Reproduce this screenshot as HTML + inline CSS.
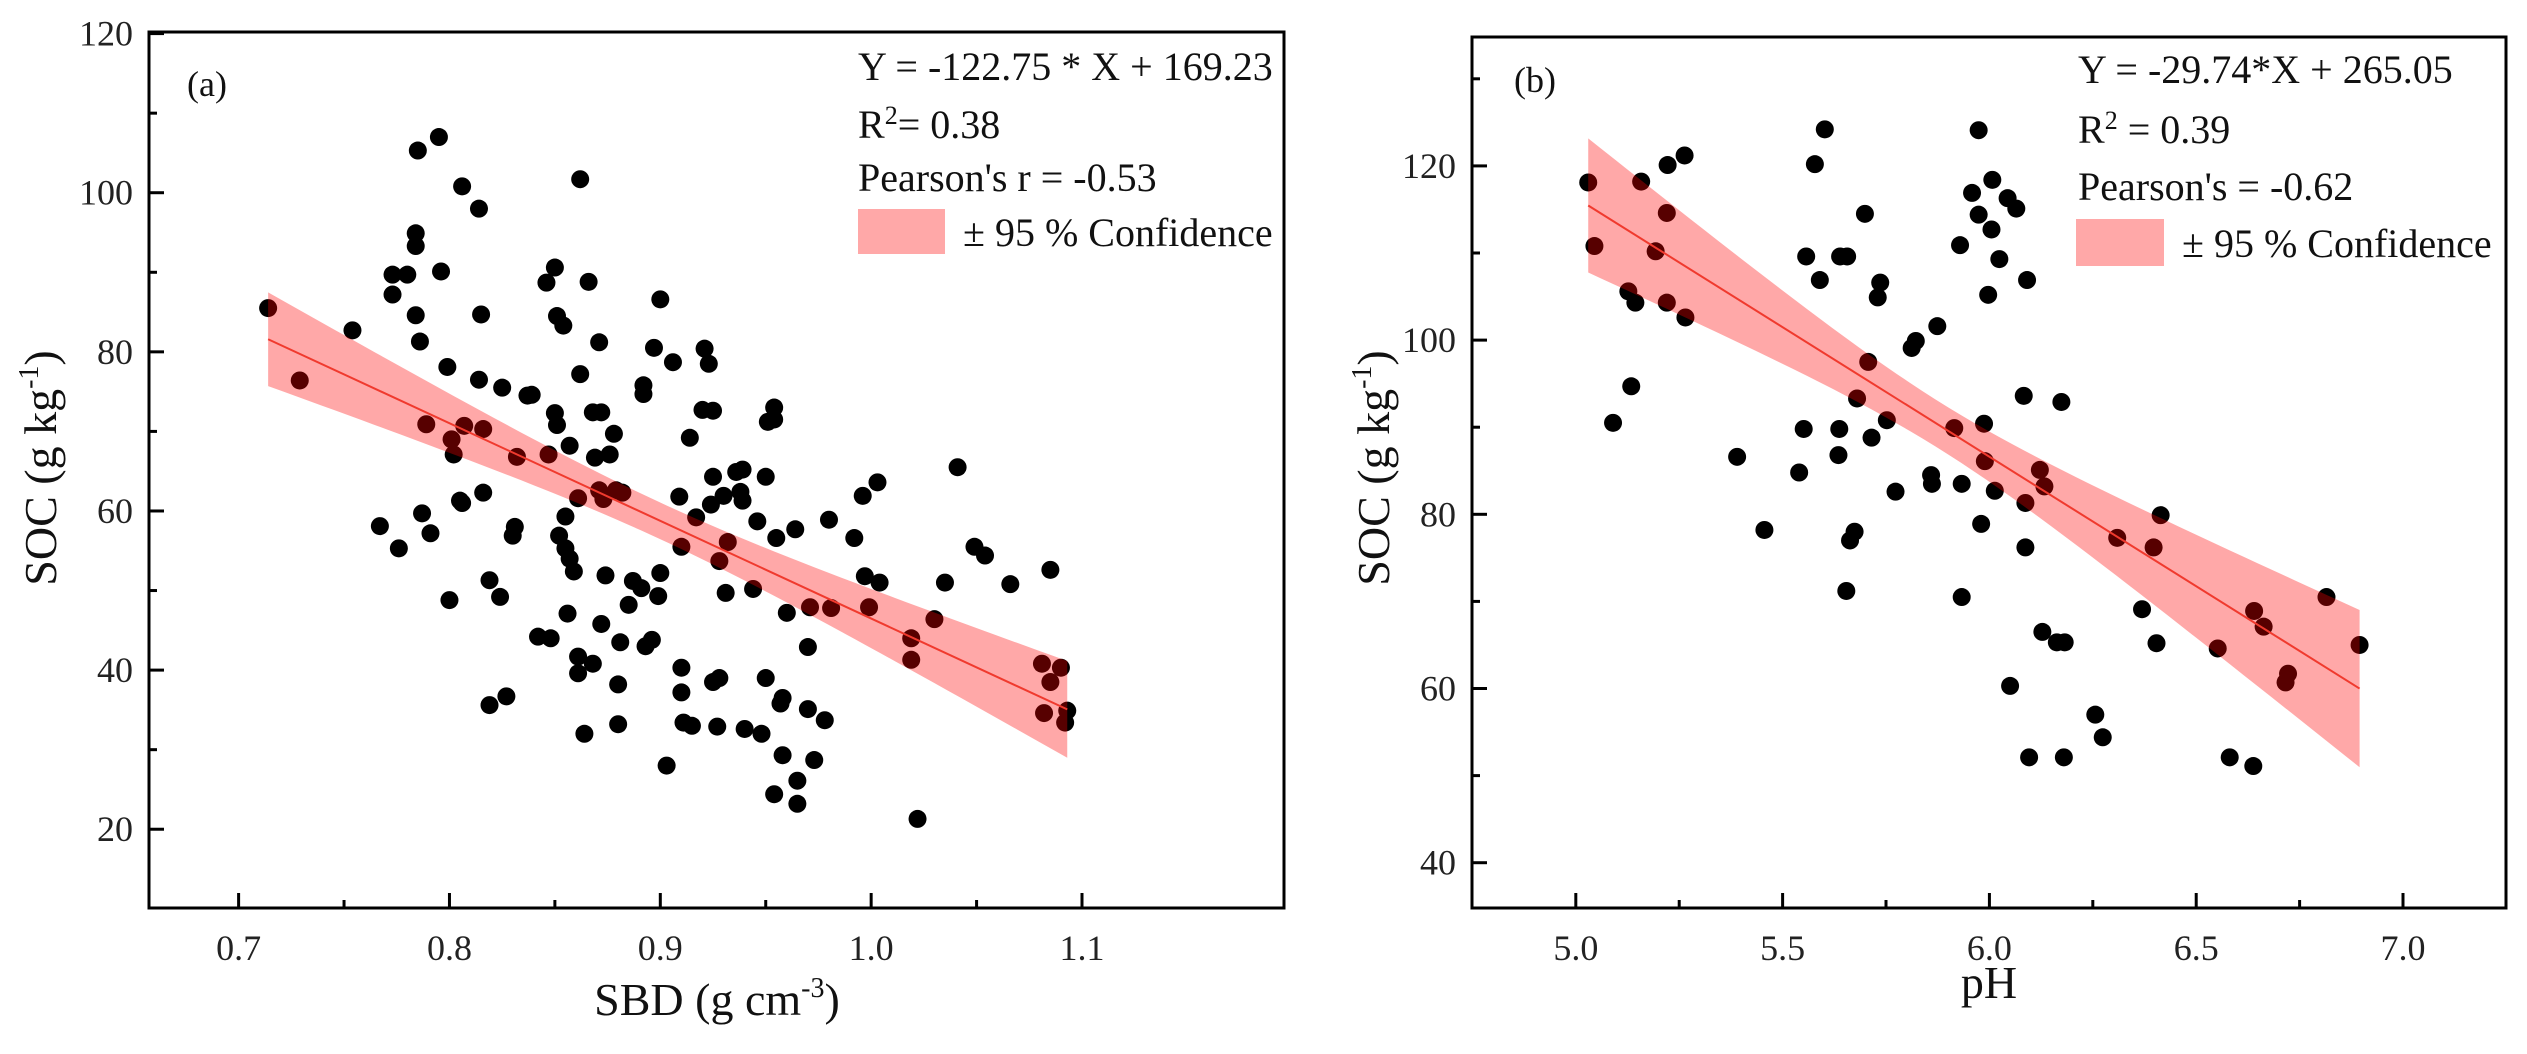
<!DOCTYPE html>
<html><head><meta charset="utf-8"><style>
html,body{margin:0;padding:0;background:#fff;}
svg, svg text{font-family:"Liberation Serif","DejaVu Serif",serif;}
</style></head><body>
<svg id="chart" width="2527" height="1049" viewBox="0 0 2527 1049" xmlns="http://www.w3.org/2000/svg"></svg>
<script>
// Panel (a): SBD vs SOC
const sbdX = [0.714,0.729,0.754,0.767,0.773,0.773,0.776,0.780,0.785,0.784,0.784,0.784,0.786,0.787,0.789,0.791,0.795,0.796,0.799,0.800,0.801,0.802,0.805,0.806,0.806,0.807,0.814,0.814,0.815,0.816,0.816,0.819,0.819,0.824,0.825,0.827,0.830,0.831,0.832,0.837,0.839,0.842,0.846,0.847,0.848,0.850,0.850,0.851,0.851,0.852,0.854,0.855,0.855,0.856,0.857,0.857,0.859,0.861,0.861,0.861,0.862,0.862,0.864,0.866,0.868,0.869,0.868,0.871,0.871,0.872,0.872,0.873,0.874,0.876,0.878,0.879,0.880,0.880,0.881,0.882,0.885,0.887,0.891,0.892,0.892,0.893,0.896,0.897,0.899,0.900,0.900,0.903,0.906,0.909,0.910,0.910,0.910,0.911,0.914,0.915,0.917,0.920,0.921,0.923,0.924,0.925,0.925,0.925,0.928,0.927,0.928,0.930,0.931,0.932,0.936,0.939,0.938,0.939,0.940,0.944,0.946,0.948,0.950,0.950,0.951,0.954,0.954,0.954,0.955,0.957,0.958,0.958,0.960,0.964,0.965,0.965,0.970,0.970,0.971,0.973,0.978,0.980,0.981,0.992,0.996,0.997,0.999,1.003,1.004,1.019,1.019,1.022,1.030,1.035,1.041,1.049,1.054,1.066,1.081,1.082,1.085,1.085,1.090,1.092,1.093];
const sbdY = [85.5,76.4,82.7,58.1,87.2,89.7,55.3,89.7,105.3,94.9,93.3,84.6,81.3,59.7,70.9,57.2,107.0,90.1,78.1,48.8,69.0,67.1,61.3,61.0,100.8,70.7,98.0,76.5,84.7,70.3,62.3,51.3,35.6,49.2,75.5,36.7,56.9,58.0,66.8,74.5,74.6,44.2,88.7,67.1,44.0,90.6,72.3,70.8,84.5,56.9,83.3,55.3,59.3,47.1,68.2,54.0,52.4,61.6,39.6,41.7,101.7,77.2,32.0,88.8,40.8,66.7,72.4,81.2,62.6,72.4,45.8,61.5,51.9,67.1,69.7,62.6,38.2,33.2,43.5,62.3,48.2,51.2,50.3,75.8,74.7,43.0,43.8,80.5,49.3,52.2,86.6,28.0,78.7,61.8,37.2,40.3,55.5,33.4,69.2,33.0,59.2,72.7,80.4,78.5,60.8,72.6,64.3,38.5,39.0,32.9,53.7,61.9,49.7,56.1,64.9,65.2,62.4,61.3,32.6,50.2,58.7,32.0,64.3,39.0,71.2,73.0,71.5,24.4,56.6,35.8,36.5,29.3,47.2,57.7,26.1,23.2,35.1,42.9,47.9,28.7,33.7,58.9,47.8,56.6,61.9,51.8,47.9,63.6,51.0,44.0,41.3,21.3,46.4,51.0,65.5,55.5,54.4,50.8,40.8,34.6,52.6,38.5,40.3,33.4,34.9];
const aXTicks = [0.7,0.8,0.9,1.0,1.1];
const aXTickLabels = ["0.7","0.8","0.9","1.0","1.1"];
const aYTicks = [20,40,60,80,100,120];
const aSlope = -122.75, aIntercept = 169.23;

// Panel (b): pH vs SOC
const phX = [5.03,5.045,5.09,5.127,5.134,5.144,5.158,5.193,5.22,5.222,5.22,5.263,5.265,5.39,5.456,5.54,5.551,5.557,5.578,5.59,5.602,5.635,5.637,5.639,5.656,5.654,5.663,5.674,5.68,5.699,5.707,5.715,5.73,5.736,5.752,5.773,5.812,5.822,5.859,5.861,5.874,5.915,5.929,5.933,5.933,5.958,5.974,5.974,5.98,5.987,5.989,5.997,6.005,6.007,6.013,6.024,6.044,6.05,6.065,6.083,6.087,6.087,6.091,6.096,6.122,6.128,6.133,6.163,6.174,6.182,6.18,6.256,6.274,6.309,6.369,6.397,6.404,6.414,6.552,6.581,6.64,6.638,6.663,6.716,6.722,6.815,6.895];
const phY = [118.1,110.8,90.5,105.6,94.7,104.3,118.2,110.2,114.6,120.1,104.3,121.2,102.6,86.6,78.2,84.8,89.8,109.6,120.2,106.9,124.2,86.8,89.8,109.6,109.6,71.2,77.0,78.0,93.3,114.5,97.5,88.8,104.9,106.6,90.8,82.6,99.1,99.9,84.5,83.5,101.6,89.9,110.9,83.5,70.5,116.9,114.4,124.1,78.9,90.4,86.1,105.2,112.7,118.4,82.7,109.3,116.3,60.3,115.1,93.6,76.2,81.3,106.9,52.1,85.1,66.5,83.2,65.3,92.9,65.3,52.1,57.0,54.4,77.3,69.1,76.2,65.2,79.9,64.6,52.1,68.9,51.1,67.1,60.7,61.7,70.5,65.0];
const bXTicks = [5.0,5.5,6.0,6.5,7.0];
const bXTickLabels = ["5.0","5.5","6.0","6.5","7.0"];
const bYTicks = [40,60,80,100,120];
const bSlope = -29.74, bIntercept = 265.05;

const NS = "http://www.w3.org/2000/svg";
const FONT = '"Liberation Serif", "DejaVu Serif", serif';
const svg = document.getElementById('chart');
function mk(tag, attrs, parent, text){
  const e = document.createElementNS(NS, tag);
  for (const k in attrs) e.setAttribute(k, attrs[k]);
  if (tag === 'text') e.setAttribute('font-family', FONT);
  if (text !== undefined) e.textContent = text;
  (parent||svg).appendChild(e);
  return e;
}

function panel(cfg){
  const g = mk('g', {});
  
  
  const sx = v => cfg.L + (v - cfg.x0) / (cfg.x1 - cfg.x0) * (cfg.R - cfg.L);
  const sy = v => cfg.B - (v - cfg.y0) / (cfg.y1 - cfg.y0) * (cfg.B - cfg.T);
  const dots = mk('g', {}, g);
  
  
  for (let i = 0; i < cfg.xs.length; i++){
    const c = mk('circle', {cx: sx(cfg.xs[i]), cy: sy(cfg.ys[i]), r: 9, fill: '#000'}, dots);
    
    
  }
  const xmin = Math.min(...cfg.xs), xmax = Math.max(...cfg.xs);
  const f = x => cfg.slope * x + cfg.intercept;
  const hw = x => Math.sqrt(cfg.ba + cfg.bb * (x - cfg.xm) * (x - cfg.xm));
  const up = [], lo = [];
  for (let k = 0; k <= 60; k++){
    const x = xmin + (xmax - xmin) * k / 60;
    up.push(sx(x) + ',' + sy(f(x) + hw(x)));
    lo.unshift(sx(x) + ',' + sy(f(x) - hw(x)));
  }
  const band = mk('polygon', {points: up.concat(lo).join(' '), fill: 'rgba(255,0,0,0.34)'}, g);
  
  
  const line = mk('line', {x1: sx(xmin), y1: sy(f(xmin)), x2: sx(xmax), y2: sy(f(xmax)), stroke: '#f03a2e', 'stroke-width': 2}, g);
  
  
  const fr = mk('rect', {x: cfg.L, y: cfg.T, width: cfg.R - cfg.L, height: cfg.B - cfg.T, fill: 'none', stroke: '#000', 'stroke-width': 3}, g);
  
  
  const xa = mk('g', {}, g);
  
  
  const dx = cfg.xTicks[1] - cfg.xTicks[0];
  cfg.xTicks.forEach((t, i) => {
    mk('line', {x1: sx(t), y1: cfg.B, x2: sx(t), y2: cfg.B - 15, stroke: '#000', 'stroke-width': 3}, xa);
    if (i < cfg.xTicks.length - 1) mk('line', {x1: sx(t + dx/2), y1: cfg.B, x2: sx(t + dx/2), y2: cfg.B - 8, stroke: '#000', 'stroke-width': 3}, xa);
    const tl = mk('text', {x: sx(t), y: 960, 'text-anchor': 'middle', 'font-size': 36, fill: '#222'}, xa, cfg.xLabels[i]);
    
    
  });
  const ya = mk('g', {}, g);
  
  
  const dy = cfg.yTicks[1] - cfg.yTicks[0];
  cfg.yTicks.forEach((t, i) => {
    mk('line', {x1: cfg.L, y1: sy(t), x2: cfg.L + 15, y2: sy(t), stroke: '#000', 'stroke-width': 3}, ya);
    const m = t + dy/2;
    if (m < cfg.y1) mk('line', {x1: cfg.L, y1: sy(m), x2: cfg.L + 8, y2: sy(m), stroke: '#000', 'stroke-width': 3}, ya);
    const tl = mk('text', {x: cfg.L - 16, y: sy(t) + 12, 'text-anchor': 'end', 'font-size': 36, fill: '#222'}, ya, String(t));
    
    
  });
  return g;
}

panel({name:'panel-a-sbd', L:149, R:1284, T:32, B:908, x0:0.6575, x1:1.1958, y0:10.1, y1:120.2,
  xs:sbdX, ys:sbdY, slope:aSlope, intercept:aIntercept, ba:5.3, bb:850, xm:0.9,
  xTicks:aXTicks, xLabels:aXTickLabels, yTicks:aYTicks});
panel({name:'panel-b-ph', L:1472, R:2506, T:37, B:908, x0:4.749, x1:7.249, y0:34.8, y1:134.8,
  xs:phX, ys:phY, slope:bSlope, intercept:bIntercept, ba:7.3, bb:72, xm:5.88,
  xTicks:bXTicks, xLabels:bXTickLabels, yTicks:bYTicks});
</script>
<svg width="2527" height="1049" style="position:absolute;left:0;top:0">
  <g fill="#111" font-size="40" font-family="Liberation Serif, DejaVu Serif, serif">
    <text x="187" y="96" font-size="36">(a)</text>
    <text x="858" y="80">Y = -122.75 * X + 169.23</text>
    <text x="858" y="138">R<tspan font-size="26" dy="-14">2</tspan><tspan dy="14">= 0.38</tspan></text>
    <text x="858" y="191">Pearson's r = -0.53</text>
    <rect x="858" y="209" width="87" height="45" fill="rgba(255,0,0,0.34)"/>
    <text x="963" y="246">± 95 % Confidence</text>
    <text x="717" y="1015" text-anchor="middle" font-size="46">SBD (g cm<tspan font-size="28" dy="-18">-3</tspan><tspan dy="18">)</tspan></text>
    <text transform="translate(56,468) rotate(-90)" text-anchor="middle" font-size="46">SOC (g kg<tspan font-size="28" dy="-18">-1</tspan><tspan dy="18">)</tspan></text>

    <text x="1514" y="92" font-size="36">(b)</text>
    <text x="2078" y="83">Y = -29.74*X + 265.05</text>
    <text x="2078" y="143">R<tspan font-size="26" dy="-14">2</tspan><tspan dy="14"> = 0.39</tspan></text>
    <text x="2078" y="200">Pearson's = -0.62</text>
    <rect x="2076" y="219" width="88" height="47" fill="rgba(255,0,0,0.34)"/>
    <text x="2182" y="257">± 95 % Confidence</text>
    <text x="1989" y="998" text-anchor="middle" font-size="46">pH</text>
    <text transform="translate(1389,468) rotate(-90)" text-anchor="middle" font-size="46">SOC (g kg<tspan font-size="28" dy="-18">-1</tspan><tspan dy="18">)</tspan></text>
  </g>
</svg>
</body></html>
